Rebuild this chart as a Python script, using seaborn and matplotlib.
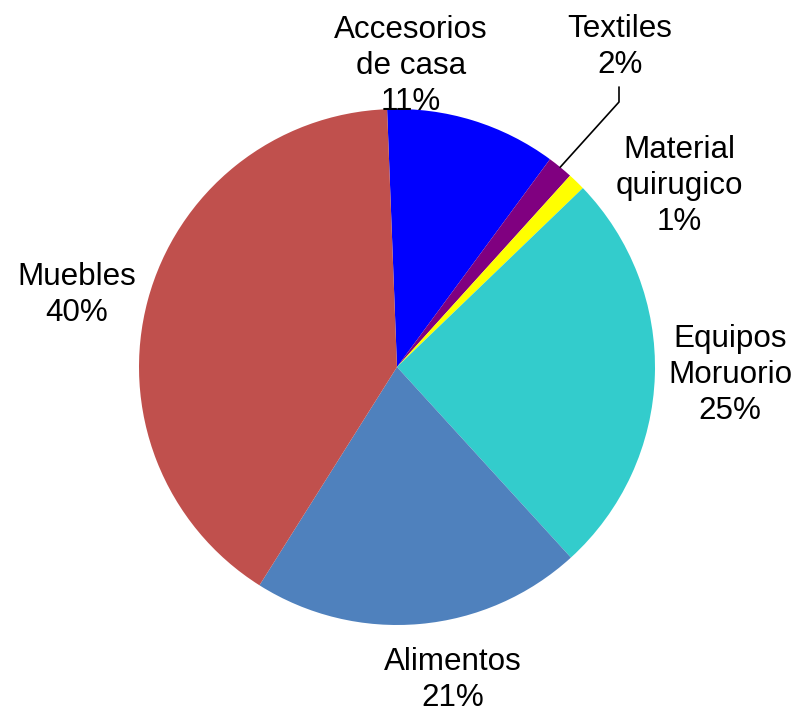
import numpy as np
import matplotlib
matplotlib.use("Agg")
import matplotlib.pyplot as plt
import seaborn as sns

# datos del grafico
categorias = ["Accesorios\nde casa", "Textiles", "Material\nquirugico",
              "Equipos\nMoruorio", "Alimentos", "Muebles"]
valores = [10.7, 1.6, 1.1, 25.4, 20.7, 40.4]
colores = ["#0000FF", "#800080", "#FFFF00", "#33CCCC", "#4F81BD", "#C0504D"]

# posicion de las etiquetas (pixeles, origen arriba a la izquierda)
pos_etiquetas = [(411, 66), (620, 47), (679, 186), (730, 375), (453, 680), (77, 295)]

sns.set_theme(style="white")
plt.rcParams['font.family'] = ['Liberation Sans', 'DejaVu Sans']

W, H = 807, 713
fig = plt.figure(figsize=(W / 100, H / 100), dpi=100)
ax = fig.add_axes([0, 0, 1, 1])

centro = (397, H - 367)
radio = 258
inicio = 92.2
wedges, _ = ax.pie(valores, colors=colores, startangle=inicio, counterclock=False,
                   center=centro, radius=radio, frame=True,
                   wedgeprops=dict(linewidth=0))
ax.set_xlim(0, W)
ax.set_ylim(0, H)
ax.set_aspect("equal")
ax.axis("off")

total = sum(valores)
for cat, v, (px, py) in zip(categorias, valores, pos_etiquetas):
	txt = "%s\n%.0f%%" % (cat, 100 * v / total)
	ax.text(px, H - py, txt, ha="center", va="center", fontsize=22.6,
	        linespacing=1.28, color="black")

# linea guia para Textiles
w = wedges[1]
ang = np.deg2rad((w.theta1 + w.theta2) / 2)
x0 = centro[0] + radio * np.cos(ang)
y0 = centro[1] + radio * np.sin(ang)
ax.plot([x0, 619, 619], [y0, H - 102, H - 87], color="black", lw=1.2)

fig.savefig("out.png", dpi=100)
